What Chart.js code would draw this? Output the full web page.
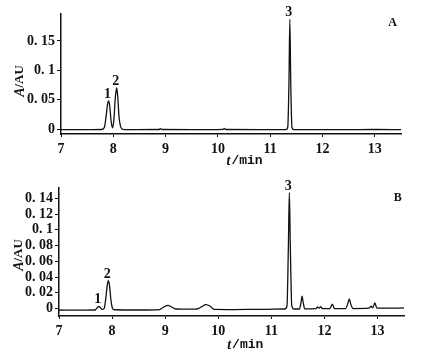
<!DOCTYPE html>
<html>
<head>
<meta charset="utf-8">
<script src="https://cdn.jsdelivr.net/npm/chart.js@4/dist/chart.umd.min.js"></script>
<style>
  body { margin: 0; background: #fff; }
  #wrap { position: relative; width: 422px; height: 359px; }
  canvas { position: absolute; left: 0; }
</style>
</head>
<body>
<div id="wrap">
  <canvas id="chartA" width="422" height="170" style="top:0"></canvas>
  <canvas id="chartB" width="422" height="189" style="top:170px"></canvas>
</div>
<script>
// panel A chromatogram (t in min, A in AU)
var timeA = [7.0, 7.3, 7.6, 7.78, 7.83, 7.86, 7.89, 7.91, 7.93, 7.96, 7.985, 8.01, 8.04, 8.065, 8.085, 8.11, 8.14, 8.18,
  8.4, 8.88, 8.9, 8.93, 9.5, 10.1, 10.12, 10.15, 10.8, 11.3, 11.335, 11.358, 11.375, 11.392, 11.415, 11.45, 12.0, 12.5, 13.0, 13.5];
var absA = [-0.001, -0.0012, -0.001, -0.0008, 0.003, 0.02, 0.042, 0.048, 0.04, 0.012, 0.002, 0.015, 0.055, 0.07, 0.055, 0.02, 0.004, -0.0005,
  -0.001, -0.0008, 0.0008, -0.0008, -0.001, -0.0005, 0.001, -0.0008, -0.001, -0.001, 0.003, 0.08, 0.187, 0.08, 0.003, -0.001, -0.0012, -0.001, -0.0008, -0.001];

// panel B chromatogram
var timeB = [7.0, 7.4, 7.68, 7.72, 7.75, 7.78, 7.81, 7.85, 7.88, 7.91, 7.93, 7.95, 7.98, 8.01, 8.05, 8.5, 8.9, 8.95, 9.05, 9.12, 9.2,
  9.5, 9.6, 9.68, 9.77, 9.85, 9.92, 10.3, 10.8, 11.25, 11.295, 11.322, 11.34, 11.358, 11.385, 11.42, 11.53, 11.56, 11.58, 11.6, 11.63,
  11.84, 11.87, 11.9, 11.93, 11.96, 12.1, 12.15, 12.19, 12.4, 12.44, 12.47, 12.5, 12.54, 12.84, 12.88, 12.91, 12.95, 12.99, 13.2, 13.5];
var absB = [-0.0018, -0.002, -0.0018, 0.001, 0.0028, 0.001, -0.001, 0.0, 0.012, 0.03, 0.0355, 0.03, 0.01, 0.0, -0.0015, -0.0018, -0.0012, 0.001, 0.0042, 0.002, -0.0005,
  -0.0008, -0.0005, 0.002, 0.005, 0.003, -0.001, -0.0012, -0.001, -0.0005, 0.003, 0.08, 0.147, 0.08, 0.004, -0.0005, -0.0005, 0.008, 0.0157, 0.008, -0.0003,
  0.0, 0.002, 0.0005, 0.0025, 0.0, 0.0, 0.0055, 0.0, 0.0, 0.006, 0.0123, 0.005, 0.0, 0.0005, 0.003, 0.001, 0.0072, 0.0005, 0.0005, 0.0008];

// axis ticks
var xTicks = [7, 8, 9, 10, 11, 12, 13];
var yTicksA = [0, 0.05, 0.1, 0.15];
var yTickTextA = ['0', '0. 05', '0. 1', '0. 15'];
var yTicksB = [0, 0.02, 0.04, 0.06, 0.08, 0.1, 0.12, 0.14];
var yTickTextB = ['0', '0. 02', '0. 04', '0. 06', '0. 08', '0. 1', '0. 12', '0. 14'];

// peak numbers
var peakNames = ['1', '2', '3'];
var peakTimesA = [7.91, 8.065, 11.375];
var peakTopsA = [0.048, 0.07, 0.187];
var peakTimesB = [7.75, 7.93, 11.34];
var peakTopsB = [0.0028, 0.0355, 0.147];

var serif = "'Liberation Serif', 'DejaVu Serif', serif";
var tickFont = { family: serif, size: 14, weight: 'bold' };

// titles, panel letter and peak numbers
var labelPlugin = {
  id: 'labels',
  afterDraw: function (chart) {
    var o = chart.options.plugins.labels;
    var ctx = chart.ctx;
    var x = chart.scales.x, y = chart.scales.y;
    var area = chart.chartArea;
    ctx.save();
    ctx.fillStyle = '#111';
    ctx.textAlign = 'center';
    ctx.textBaseline = 'alphabetic';
    ctx.font = 'bold 14px ' + serif;
    for (var i = 0; i < peakNames.length; i++) {
      ctx.fillText(peakNames[i], x.getPixelForValue(o.peakTimes[i]) - 1, y.getPixelForValue(o.peakTops[i]) - 3);
    }
    ctx.textBaseline = 'middle';
    ctx.font = 'bold 12px ' + serif;
    ctx.fillText(o.letter, x.getPixelForValue(o.letterX), area.top + o.letterDy);

    // x title: italic t + /min
    var xt = x.getPixelForValue(10.5), yt = area.bottom + o.xTitleDy;
    ctx.textAlign = 'left';
    ctx.font = 'italic bold 14px ' + serif;
    var w1 = ctx.measureText('t').width;
    ctx.font = "bold 13px 'Liberation Mono', monospace";
    var w2 = ctx.measureText('/min').width;
    var sx = xt - (w1 + w2) / 2;
    ctx.font = 'italic bold 14px ' + serif;
    ctx.fillText('t', sx, yt);
    ctx.font = "bold 13px 'Liberation Mono', monospace";
    ctx.fillText('/min', sx + w1 + 1, yt);

    // y title: italic A + /AU, rotated
    ctx.translate(o.yTitleX, area.top + o.yTitleDy);
    ctx.rotate(-Math.PI / 2);
    ctx.font = 'italic bold 14px ' + serif;
    var a1 = ctx.measureText('A').width;
    ctx.font = 'bold 13px ' + serif;
    var a2 = ctx.measureText('/AU').width;
    var ax = -(a1 + a2) / 2;
    ctx.font = 'italic bold 14px ' + serif;
    ctx.fillText('A', ax, 0);
    ctx.font = 'bold 13px ' + serif;
    ctx.fillText('/AU', ax + a1, 0);
    ctx.restore();
  }
};

function makeChart(id, times, values, c) {
  var pts = times.map(function (t, i) { return { x: t, y: values[i] }; });
  return new Chart(document.getElementById(id), {
    type: 'line',
    data: {
      datasets: [{
        data: pts,
        borderColor: '#111',
        borderWidth: 1.3,
        pointRadius: 0,
        cubicInterpolationMode: 'monotone',
        fill: false
      }]
    },
    plugins: [labelPlugin],
    options: {
      responsive: false,
      animation: false,
      devicePixelRatio: 1,
      layout: { padding: { left: 0, right: c.padRight, top: c.padTop, bottom: 0 } },
      plugins: {
        legend: { display: false },
        tooltip: { enabled: false },
        labels: c.labels
      },
      scales: {
        x: {
          type: 'linear',
          min: 7,
          max: 13.5,
          afterBuildTicks: function (s) { s.ticks = xTicks.map(function (v) { return { value: v }; }); },
          afterFit: function (s) { s.height = c.xHeight; },
          grid: { display: true, drawOnChartArea: false, drawTicks: true, tickLength: 3, color: '#111', lineWidth: 1 },
          border: { display: true, color: '#111', width: 1.5 },
          ticks: { color: '#111', font: tickFont, padding: 4, maxRotation: 0, autoSkip: false }
        },
        y: {
          min: c.yMin,
          max: c.yMax,
          afterBuildTicks: function (s) { s.ticks = c.yTicks.map(function (v) { return { value: v }; }); },
          afterFit: function (s) { s.width = c.yWidth; },
          grid: { display: true, drawOnChartArea: false, drawTicks: true, tickLength: 4, color: '#111', lineWidth: 1 },
          border: { display: true, color: '#111', width: 1.5 },
          ticks: {
            color: '#111',
            font: tickFont,
            padding: 2,
            autoSkip: false,
            callback: function (v, i) { return c.yText[i]; }
          }
        }
      }
    }
  });
}

makeChart('chartA', timeA, absA, {
  padRight: 21, padTop: 14, xHeight: 36, yWidth: 61,
  yMin: -0.0085, yMax: 0.196, yTicks: yTicksA, yText: yTickTextA,
  labels: { peakTimes: peakTimesA, peakTops: peakTopsA, letter: 'A', letterX: 13.34, letterDy: 9, xTitleDy: 27, yTitleX: 20, yTitleDy: 67 }
});

makeChart('chartB', timeB, absB, {
  padRight: 18, padTop: 18, xHeight: 43, yWidth: 59,
  yMin: -0.0094, yMax: 0.153, yTicks: yTicksB, yText: yTickTextB,
  labels: { peakTimes: peakTimesB, peakTops: peakTopsB, letter: 'B', letterX: 13.38, letterDy: 10, xTitleDy: 29, yTitleX: 19, yTitleDy: 67 }
});
</script>
</body>
</html>
